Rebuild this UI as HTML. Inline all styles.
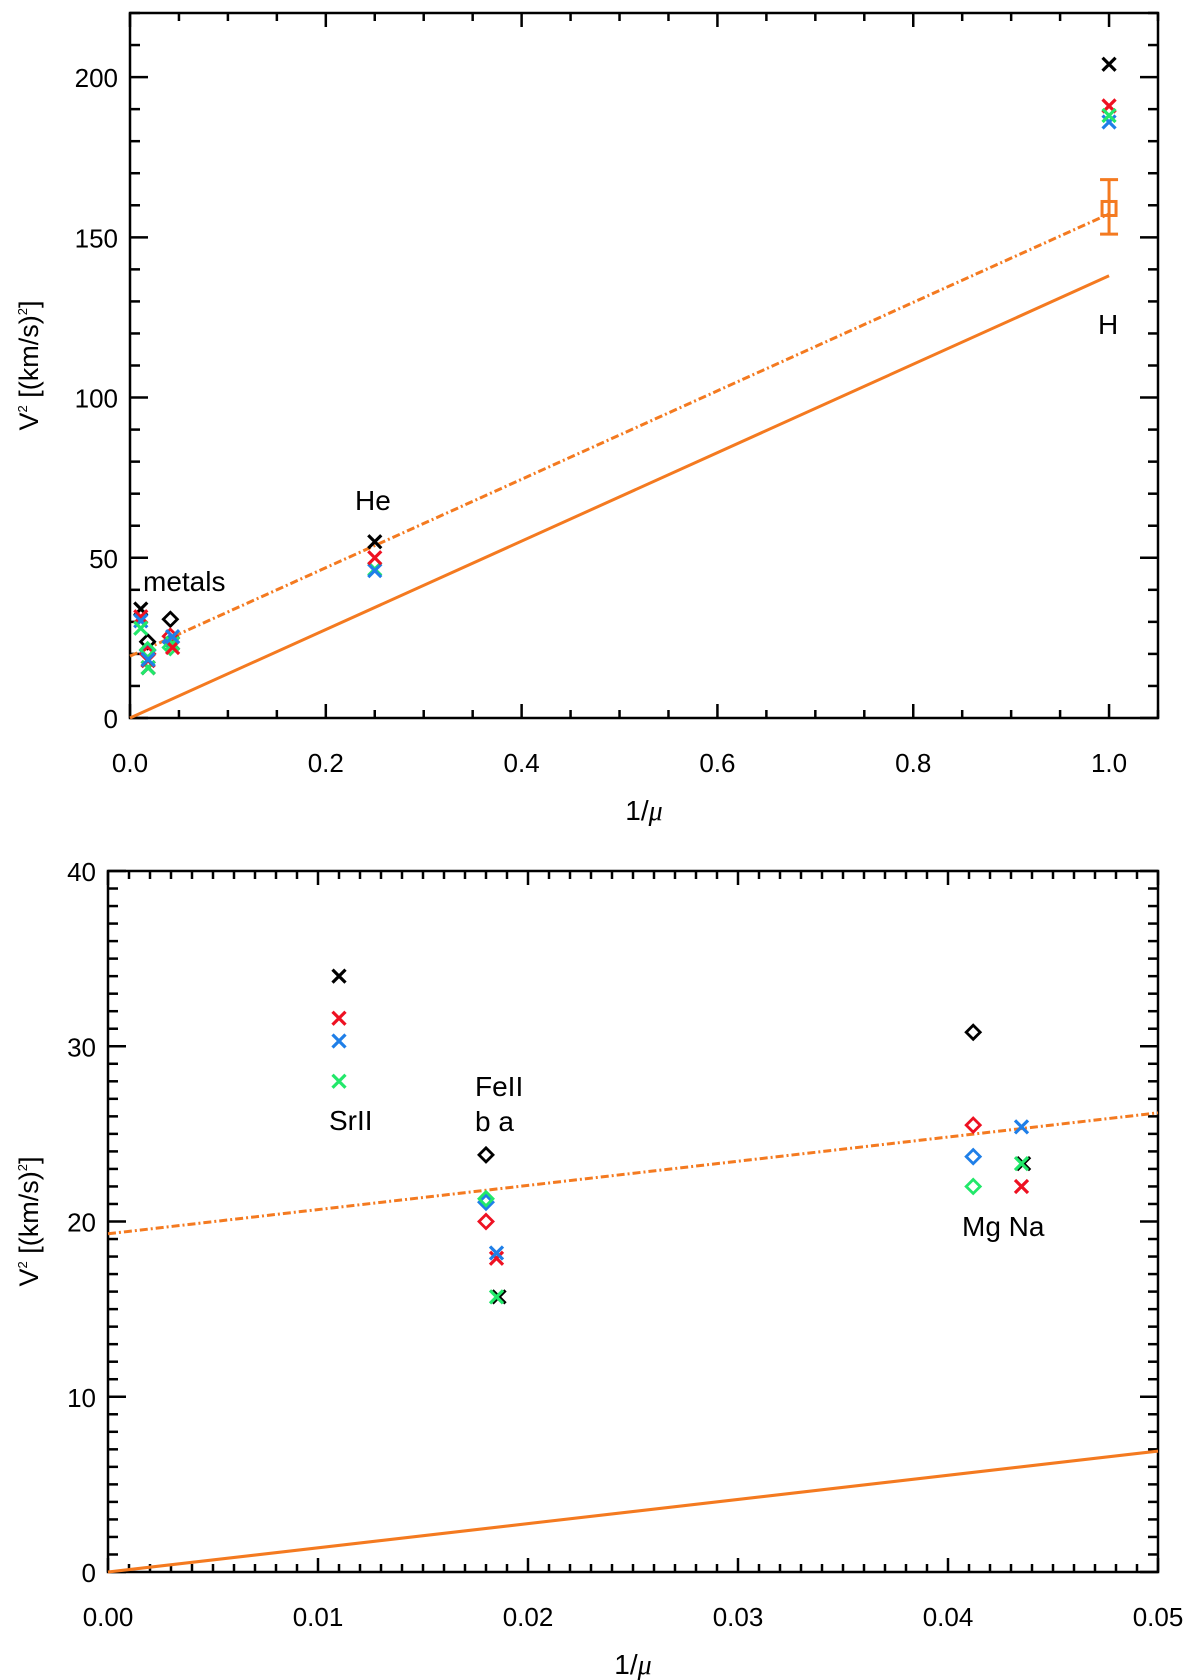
<!DOCTYPE html>
<html><head><meta charset="utf-8"><style>
html,body{margin:0;padding:0;background:#fff;}
svg{display:block;font-family:"Liberation Sans",sans-serif;}
</style></head><body>
<svg id="chart" width="1200" height="1680" viewBox="0 0 1200 1680" xmlns="http://www.w3.org/2000/svg"></svg>
<script>
// ---- data ----
const seriesColors = ["#000000", "#ee1122", "#1f7fe8", "#22e86a"];
const srX = 0.011;
const srCross = [34, 31.6, 30.3, 28];
const feDiaX = 0.018;
const feDia = [23.8, 20, 21.1, 21.3];
const feCrossX = 0.0185;
const feCross = [15.7, 17.9, 18.2, 15.7];
const mgX = 0.0412;
const mgDia = [30.8, 25.5, 23.7, 22];
const naX = 0.0435;
const naCross = [23.3, 22, 25.4, 23.3];
const heX = 0.25;
const heCross = [55, 50, 46, 46.5];
const hX = 1.0;
const hCross = [204, 191, 186, 188];
const hObs = [1.0, 159, 151, 168];
const solidSlope = 138;
const dashIntercept = 19.3;
const topXTicks = ["0.0","0.2","0.4","0.6","0.8","1.0"];
const topYTicks = ["0","50","100","150","200"];
const botXTicks = ["0.00","0.01","0.02","0.03","0.04","0.05"];
const botYTicks = ["0","10","20","30","40"];

const svg = document.getElementById('chart');
const NS = "http://www.w3.org/2000/svg";
function mk(tag, attrs, parent){const e=document.createElementNS(NS,tag);for(const k in attrs)e.setAttribute(k,attrs[k]);(parent||svg).appendChild(e);return e;}
const ORANGE = "#f47a20";

function panel(P, name){
  const g = mk('g',{});
  
  
  const sx = v => P.x0 + (v - P.xmin)/(P.xmax-P.xmin)*(P.x1-P.x0);
  const sy = v => P.y0 - (v - P.ymin)/(P.ymax-P.ymin)*(P.y0-P.y1);
  const tg = mk('g',{stroke:"#000","stroke-width":2.5},g);
  for(let v=P.xmin; v<=P.xmax+1e-9; v+=P.xminor){
    const major = Math.abs(Math.round(v/P.xmajor)*P.xmajor - v) < 1e-9;
    const L = major?14:8, X=sx(v);
    mk('line',{x1:X,x2:X,y1:P.y0,y2:P.y0-L},tg);
    mk('line',{x1:X,x2:X,y1:P.y1,y2:P.y1+L},tg);
  }
  for(let v=P.ymin; v<=P.ymax+1e-9; v+=P.yminor){
    const major = Math.abs(Math.round(v/P.ymajor)*P.ymajor - v) < 1e-9;
    const L = major?18:10, Y=sy(v);
    mk('line',{x1:P.x0,x2:P.x0+L,y1:Y,y2:Y},tg);
    mk('line',{x1:P.x1,x2:P.x1-L,y1:Y,y2:Y},tg);
  }
  mk('rect',{x:P.x0,y:P.y1,width:P.x1-P.x0,height:P.y0-P.y1,fill:"none",stroke:"#000","stroke-width":2.5},g);
  P.xt.forEach(t=>{const e=mk('text',{x:sx(parseFloat(t)),y:P.y0+54,"text-anchor":"middle","font-size":26},g);e.textContent=t;
    });
  P.yt.forEach(t=>{const e=mk('text',{x:P.x0-12,y:sy(parseFloat(t))+10,"text-anchor":"end","font-size":26},g);e.textContent=t;
    });
  const xl=mk('text',{x:(P.x0+P.x1)/2,y:P.y0+102,"text-anchor":"middle","font-size":28},g);
  xl.innerHTML='1/<tspan font-style="italic" font-family="Liberation Serif">μ</tspan>';
  
  const yl=mk('text',{transform:`translate(38,${(P.y0+P.y1)/2}) rotate(-90)`,"text-anchor":"middle","font-size":27},g);
  yl.innerHTML='V<tspan font-size="13" dy="-11">2</tspan><tspan dy="11"> [(km/s)</tspan><tspan font-size="13" dy="-11">2</tspan><tspan dy="11">]</tspan>';
  
  const cx0=P.xmin, cx1=Math.min(P.xmax, P.lineEnd);
  const sl=mk('line',{x1:sx(cx0),y1:sy(solidSlope*cx0),x2:sx(cx1),y2:sy(solidSlope*cx1),stroke:ORANGE,"stroke-width":3},g);
  
  const dl=mk('line',{x1:sx(cx0),y1:sy(dashIntercept+solidSlope*cx0),x2:sx(cx1),y2:sy(dashIntercept+solidSlope*cx1),stroke:ORANGE,"stroke-width":3,"stroke-dasharray":"8,3,2,3"},g);
  
  function cross(x,v,c){const X=sx(x),Y=sy(v),s=6.5;
    const p=mk('path',{d:`M${X-s},${Y-s}L${X+s},${Y+s}M${X-s},${Y+s}L${X+s},${Y-s}`,stroke:c,"stroke-width":3.2,fill:"none"},g);
    }
  function dia(x,v,c){const X=sx(x),Y=sy(v),s=7;
    const p=mk('path',{d:`M${X},${Y-s}L${X+s},${Y}L${X},${Y+s}L${X-s},${Y}Z`,stroke:c,"stroke-width":2.8,fill:"none"},g);
    }
  const order=[0,1,2,3];
  order.forEach(i=>{dia(feDiaX,feDia[i],seriesColors[i]);dia(mgX,mgDia[i],seriesColors[i]);});
  order.forEach(i=>{cross(srX,srCross[i],seriesColors[i]);});
  [0,3,1,2].forEach(i=>{cross(feCrossX+(i==0?0.00012:0),feCross[i],seriesColors[i]);cross(naX+(i==0?0.0001:0),naCross[i],seriesColors[i]);});
  if(P.top){
    [3,2,1,0].forEach(i=>{cross(heX,heCross[i],seriesColors[i]);});
    [0,1,2,3].forEach(i=>{cross(hX,hCross[i],seriesColors[i]);});
    const X=sx(hObs[0]);
    const eb=mk('path',{d:`M${X},${sy(hObs[2])}L${X},${sy(hObs[3])}M${X-9},${sy(hObs[2])}L${X+9},${sy(hObs[2])}M${X-9},${sy(hObs[3])}L${X+9},${sy(hObs[3])}`,stroke:ORANGE,"stroke-width":3,fill:"none"},g);
    
    const sq=mk('rect',{x:X-7,y:sy(hObs[1])-7,width:14,height:14,stroke:ORANGE,"stroke-width":3,fill:"none"},g);
    
  }
  P.labels.forEach(l=>{const e=mk('text',{x:l[0],y:l[1],"font-size":28},g);e.textContent=l[2];
    });
}
panel({x0:130,x1:1158,y0:718,y1:13,xmin:0,xmax:1.05,ymin:0,ymax:220,xmajor:0.2,xminor:0.05,ymajor:50,yminor:10,
  xt:topXTicks,yt:topYTicks,lineEnd:1.0,top:true,
  labels:[[143,591,"metals"],[355,510,"He"],[1098,334,"H"]]},'top-panel');
panel({x0:108,x1:1158,y0:1572,y1:871,xmin:0,xmax:0.05,ymin:0,ymax:40,xmajor:0.01,xminor:0.001,ymajor:10,yminor:1,
  xt:botXTicks,yt:botYTicks,lineEnd:0.05,top:false,
  labels:[[329,1130,"SrII"],[475,1096,"FeII"],[475,1131,"b a"],[962,1236,"Mg Na"]]},'bottom-panel');
</script>
</body></html>
